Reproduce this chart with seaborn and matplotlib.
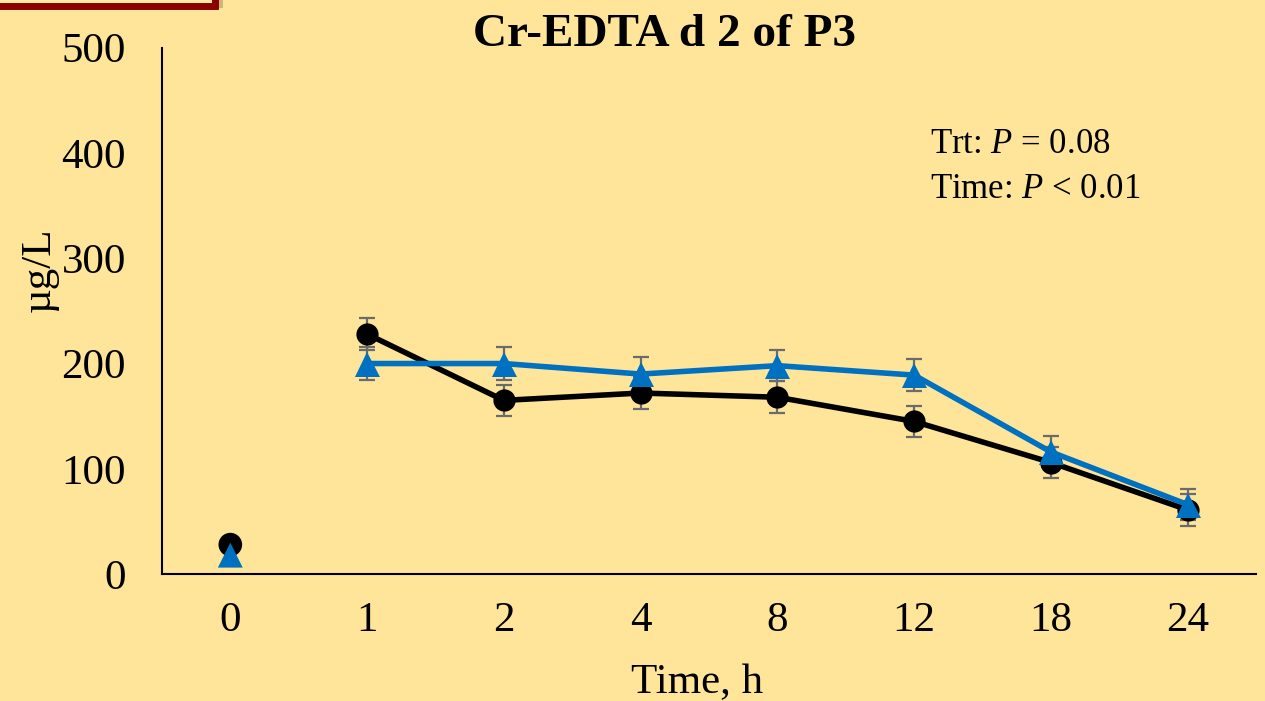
import numpy as np
import pandas as pd
import matplotlib
matplotlib.use("Agg")
import matplotlib.pyplot as plt
import seaborn as sns
from matplotlib.patches import Rectangle

# chart values
times = ["0", "1", "2", "4", "8", "12", "18", "24"]
ctrl_mean = [28, 228, 165, 172, 168, 145, 106, 61]
ctrl_se = [0, 15, 15, 15, 15, 15, 15, 15]
trt_mean = [18, 200, 200, 190, 198, 189, 116, 66]
trt_se = [0, 16, 16, 16, 15, 15, 15, 15]

bg = "#FEE599"
blue = "#0070C0"

sns.set_theme(style="white")
plt.rcParams["font.family"] = ["Liberation Serif", "DejaVu Serif"]
plt.rcParams["text.color"] = "black"
plt.rcParams["axes.labelcolor"] = "black"
plt.rcParams["mathtext.fontset"] = "custom"
plt.rcParams["mathtext.rm"] = "Liberation Serif"
plt.rcParams["mathtext.it"] = "Liberation Serif:italic"

df = pd.DataFrame({
    "pos": list(range(len(times))) * 2,
    "value": ctrl_mean + trt_mean,
    "se": ctrl_se + trt_se,
    "group": ["ctrl"] * len(times) + ["trt"] * len(times),
})

fig = plt.figure(figsize=(12.65, 7.01), dpi=100, facecolor=bg)
ax = fig.add_axes([0.128, 0.181, 0.865, 0.751])
ax.set_facecolor(bg)

# error bars (not for time 0)
for grp in ["ctrl", "trt"]:
    sub = df[(df["group"] == grp) & (df["pos"] > 0)]
    ax.errorbar(sub["pos"], sub["value"], yerr=sub["se"], fmt="none",
                ecolor="#6b6b6b", elinewidth=1.6, capsize=6, capthick=1.6, zorder=2)

# time 0 shown as unconnected points
first = df[df["pos"] == 0]
sns.scatterplot(data=first[first["group"] == "ctrl"], x="pos", y="value", ax=ax,
                color="black", marker="o", s=290, edgecolor="none", zorder=3, legend=False)
sns.scatterplot(data=first[first["group"] == "trt"], x="pos", y="value", ax=ax,
                color=blue, marker="^", s=320, edgecolor="none", zorder=4, legend=False)

rest = df[df["pos"] > 0]
sns.lineplot(data=rest[rest["group"] == "ctrl"], x="pos", y="value", ax=ax,
             color="black", marker="o", markersize=16, markeredgewidth=0,
             linewidth=4, zorder=3, legend=False)
sns.lineplot(data=rest[rest["group"] == "trt"], x="pos", y="value", ax=ax,
             color=blue, marker="^", markersize=18, markeredgewidth=0,
             linewidth=4, zorder=4, legend=False)

ax.set_xlim(-0.5, len(times) - 0.5)
ax.set_ylim(0, 500)
ax.set_xticks(range(len(times)))
ax.set_xticklabels(times)
ax.set_yticks([0, 100, 200, 300, 400, 500])
ax.tick_params(axis="both", length=0, labelsize=31, colors="black")
ax.tick_params(axis="x", pad=20)
ax.tick_params(axis="y", pad=26)

for s in ["top", "right"]:
    ax.spines[s].set_visible(False)
for s in ["left", "bottom"]:
    ax.spines[s].set_color("black")
    ax.spines[s].set_linewidth(1.5)

ax.set_xlabel("Time, h", fontsize=31)
ax.xaxis.label.set_va("center")
ax.xaxis.set_label_coords(0.489, -0.207)
ax.set_ylabel("µg/L", fontsize=31)
ax.yaxis.label.set_va("center")
ax.yaxis.set_label_coords(-0.112, 0.578)

fig.text(0.525, 0.950, "Cr-EDTA d 2 of P3", fontsize=34, fontweight="bold",
         ha="center", va="center")

ax.text(0.702, 0.816, "Trt: $\\it{P}$ = 0.08", transform=ax.transAxes, fontsize=25,
        ha="left", va="center")
ax.text(0.702, 0.731, "Time: $\\it{P}$ < 0.01", transform=ax.transAxes, fontsize=25,
        ha="left", va="center")

# dark red box cut off at the top left corner
fig.patches.append(Rectangle((0.004, 0.988), 0.172, 0.03, transform=fig.transFigure,
                             facecolor="#333300", alpha=0.25, edgecolor="none", zorder=0))
fig.patches.append(Rectangle((-0.01, 0.991), 0.18, 0.03, transform=fig.transFigure,
                             facecolor="#FDE9A8", edgecolor="#8B0000", linewidth=5, zorder=1))

fig.savefig("out.png", dpi=100, facecolor=bg)
